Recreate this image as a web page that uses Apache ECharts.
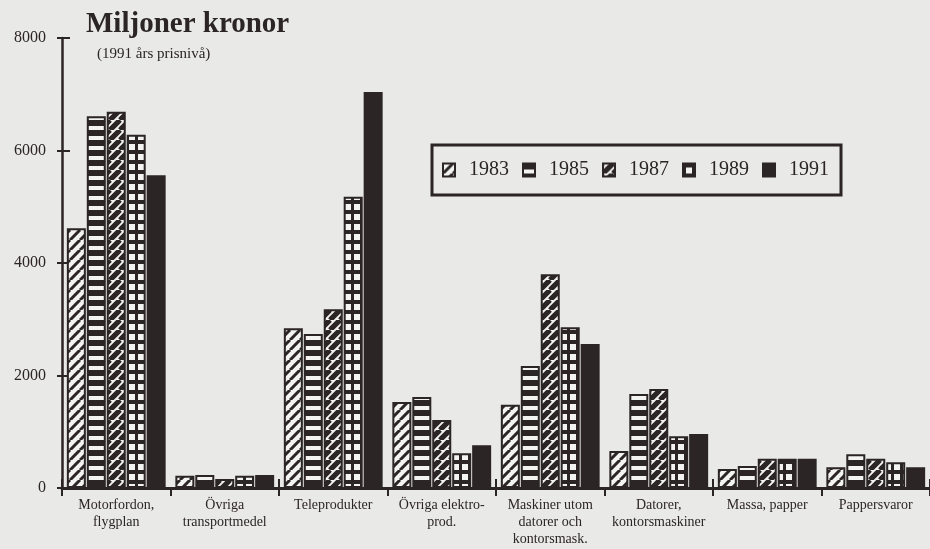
<!DOCTYPE html>
<html><head><meta charset="utf-8">
<script src="https://cdn.jsdelivr.net/npm/echarts@6/dist/echarts.min.js"></script>
<style>html,body{margin:0;padding:0;background:#e9e9e7}#c{width:930px;height:549px}</style>
</head><body><div id="c"></div>
<script>
const categories = ['Motorfordon,\nflygplan','Övriga\ntransportmedel','Teleprodukter','Övriga elektro-\nprod.','Maskiner utom\ndatorer och\nkontorsmask.','Datorer,\nkontorsmaskiner','Massa, papper','Pappersvaror'];
const years = ['1983','1985','1987','1989','1991'];
const v1983 = [4620, 220, 2840, 1530, 1480, 660, 340, 370];
const v1985 = [6610, 230, 2740, 1620, 2170, 1670, 390, 600];
const v1987 = [6690, 160, 3180, 1210, 3800, 1760, 520, 520];
const v1989 = [6280, 220, 5180, 620, 2860, 920, 520, 460];
const v1991 = [5560, 230, 7040, 760, 2560, 960, 520, 370];
const yTicks = [0, 2000, 4000, 6000, 8000];

const INK = '#2b2525', PAPER = '#f3f3f1', SERIF = '"Liberation Serif", "DejaVu Serif", serif';
function tile(w, h, draw) {
  const c = document.createElement('canvas'); c.width = w; c.height = h;
  const g = c.getContext('2d');
  g.fillStyle = PAPER; g.fillRect(0, 0, w, h);
  g.fillStyle = INK; g.strokeStyle = INK;
  draw(g, w, h);
  return { image: c, repeat: 'repeat' };
}
const diag = lw => (g, w, h) => {
  g.lineWidth = lw; g.beginPath();
  for (let k = -1; k <= 1; k++) { g.moveTo(k * w, h); g.lineTo(k * w + w, 0); }
  g.stroke();
};
const fills = [
  tile(10, 10, diag(3.0)),
  tile(10, 10, g => { g.fillRect(0, 0, 10, 6); }),
  tile(10, 10, diag(5.2)),
  tile(9, 10, g => { g.fillRect(0, 0, 9, 4); g.fillRect(0, 0, 3, 10); }),
  INK
];
const values = [v1983, v1985, v1987, v1989, v1991];

const chart = echarts.init(document.getElementById('c'), null, { renderer: 'canvas' });
const yMin = yTicks[0], yMax = yTicks[yTicks.length - 1], yInt = yTicks[1] - yTicks[0];
chart.setOption({
  backgroundColor: '#e9e9e7',
  animation: false,
  title: [
    { text: 'Miljoner kronor', left: 86, top: 10, padding: 0,
      textStyle: { fontFamily: SERIF, fontSize: 29, fontWeight: 'bold', color: INK } },
    { text: '(1991 års prisnivå)', left: 97, top: 47, padding: 0,
      textStyle: { fontFamily: SERIF, fontSize: 15, fontWeight: 'normal', color: INK } }
  ],
  legend: {
    left: 432, top: 145, orient: 'horizontal',
    padding: [15, 12, 15, 10],
    borderColor: INK, borderWidth: 3,
    icon: 'rect',
    itemWidth: 12, itemHeight: 13, itemGap: 13,
    textStyle: { fontFamily: SERIF, fontSize: 20, color: INK, padding: [0, 0, 0, 9] },
    data: years
  },
  grid: { left: 62, right: -6.4, top: 38, bottom: 61, containLabel: false },
  xAxis: [
    { type: 'category', data: categories, position: 'bottom',
      axisLine: { show: true, lineStyle: { color: INK, width: 3 } },
      axisTick: { show: true, inside: false, length: 8, lineStyle: { color: INK, width: 2 } },
      axisLabel: { margin: 9, interval: 0, fontFamily: SERIF, fontSize: 14, lineHeight: 17, color: INK },
      splitLine: { show: false } },
    { type: 'category', data: categories, position: 'bottom',
      axisLine: { show: false }, axisLabel: { show: false },
      axisTick: { show: true, inside: true, length: 9, lineStyle: { color: INK, width: 2 } },
      splitLine: { show: false } }
  ],
  yAxis: [
    { type: 'value', min: yMin, max: yMax, interval: yInt, position: 'left',
      axisLine: { show: true, lineStyle: { color: INK, width: 2.5 } },
      axisTick: { show: true, inside: false, length: 5, lineStyle: { color: INK, width: 2 } },
      axisLabel: { margin: 16, fontFamily: SERIF, fontSize: 16, color: INK, formatter: v => String(v) },
      splitLine: { show: false } },
    { type: 'value', min: yMin, max: yMax, interval: yInt, position: 'left',
      axisLine: { show: false }, axisLabel: { show: false },
      axisTick: { show: true, inside: true, length: 8, lineStyle: { color: INK, width: 2 } },
      splitLine: { show: false } }
  ],
  series: years.map((y, i) => ({
    name: y, type: 'bar', data: values[i], xAxisIndex: 0, yAxisIndex: 0,
    barWidth: 19, barGap: '5%',
    itemStyle: { color: fills[i], borderColor: INK, borderWidth: 2 },
    emphasis: { disabled: true }
  }))
});
</script></body></html>
